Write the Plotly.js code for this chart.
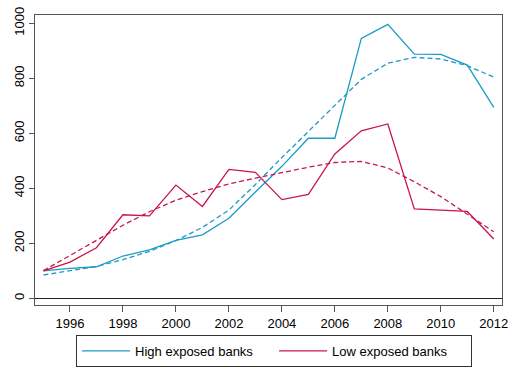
<!DOCTYPE html>
<html>
<head>
<meta charset="utf-8">
<script src="https://cdn.plot.ly/plotly-3.0.1.min.js"></script>
<style>html,body{margin:0;padding:0;background:#fff;}#chart{width:514px;height:368px;}</style>
</head>
<body>
<div id="chart"></div>
<script>
const years = [1995,1996,1997,1998,1999,2000,2001,2002,2003,2004,2005,2006,2007,2008,2009,2010,2011,2012];
const highActual = [100,109,115,154,176,211,231,291,387,480,582,582,945,996,888,887,848,694];
const highFitted = [85,100,116,141,171,210,258,321,414,512,606,702,796,855,876,870,846,804];
const lowActual  = [100,132,184,304,300,412,334,469,458,359,378,525,609,634,325,320,316,216];
const lowFitted  = [101,155,211,266,315,357,388,416,437,458,477,494,498,474,424,370,307,242];
const seriesNames = ["High exposed banks","Low exposed banks"];
const xTicks = [1996,1998,2000,2002,2004,2006,2008,2010,2012];
const yTicks = [0,200,400,600,800,1000];

const blue = "#1d9ac6", red = "#c8174a";
const traces = [
  {x: years, y: highActual, mode: "lines", name: seriesNames[0], line: {color: blue, width: 1.3}},
  {x: years, y: lowActual, mode: "lines", name: seriesNames[1], line: {color: red, width: 1.3}},
  {x: years, y: highFitted, mode: "lines", showlegend: false, line: {color: blue, width: 1.3, dash: "5px,3px"}},
  {x: years, y: lowFitted, mode: "lines", showlegend: false, line: {color: red, width: 1.3, dash: "5px,3px"}}
];
const layout = {
  width: 514, height: 368,
  margin: {l: 35, r: 12, t: 15, b: 63},
  paper_bgcolor: "#fff", plot_bgcolor: "#fff",
  font: {family: "Liberation Sans, Arial, sans-serif", size: 13, color: "#000"},
  showlegend: true,
  legend: {orientation: "h", xref: "container", yref: "container", x: 0.148, xanchor: "left", y: 0.09, yanchor: "top",
           bordercolor: "#333", borderwidth: 1, font: {size: 13}, entrywidth: 134, itemwidth: 48,
           traceorder: "normal"},
  xaxis: {range: [1994.68, 2012.31], tickvals: xTicks, ticktext: xTicks.map(String),
          showgrid: false, zeroline: false, showline: true, linecolor: "#555", linewidth: 1, mirror: true,
          ticks: "outside", ticklen: 6, tickcolor: "#555", tickfont: {size: 13}},
  yaxis: {range: [-24, 1030], tickvals: yTicks, ticktext: yTicks.map(String), tickangle: -90,
          showgrid: false, zeroline: true, zerolinecolor: "#222", zerolinewidth: 1,
          showline: true, linecolor: "#555", linewidth: 1, mirror: true,
          ticks: "outside", ticklen: 5, tickcolor: "#555", tickfont: {size: 13}}
};
Plotly.newPlot("chart", traces, layout, {displayModeBar: false, staticPlot: true});
</script>
</body>
</html>
